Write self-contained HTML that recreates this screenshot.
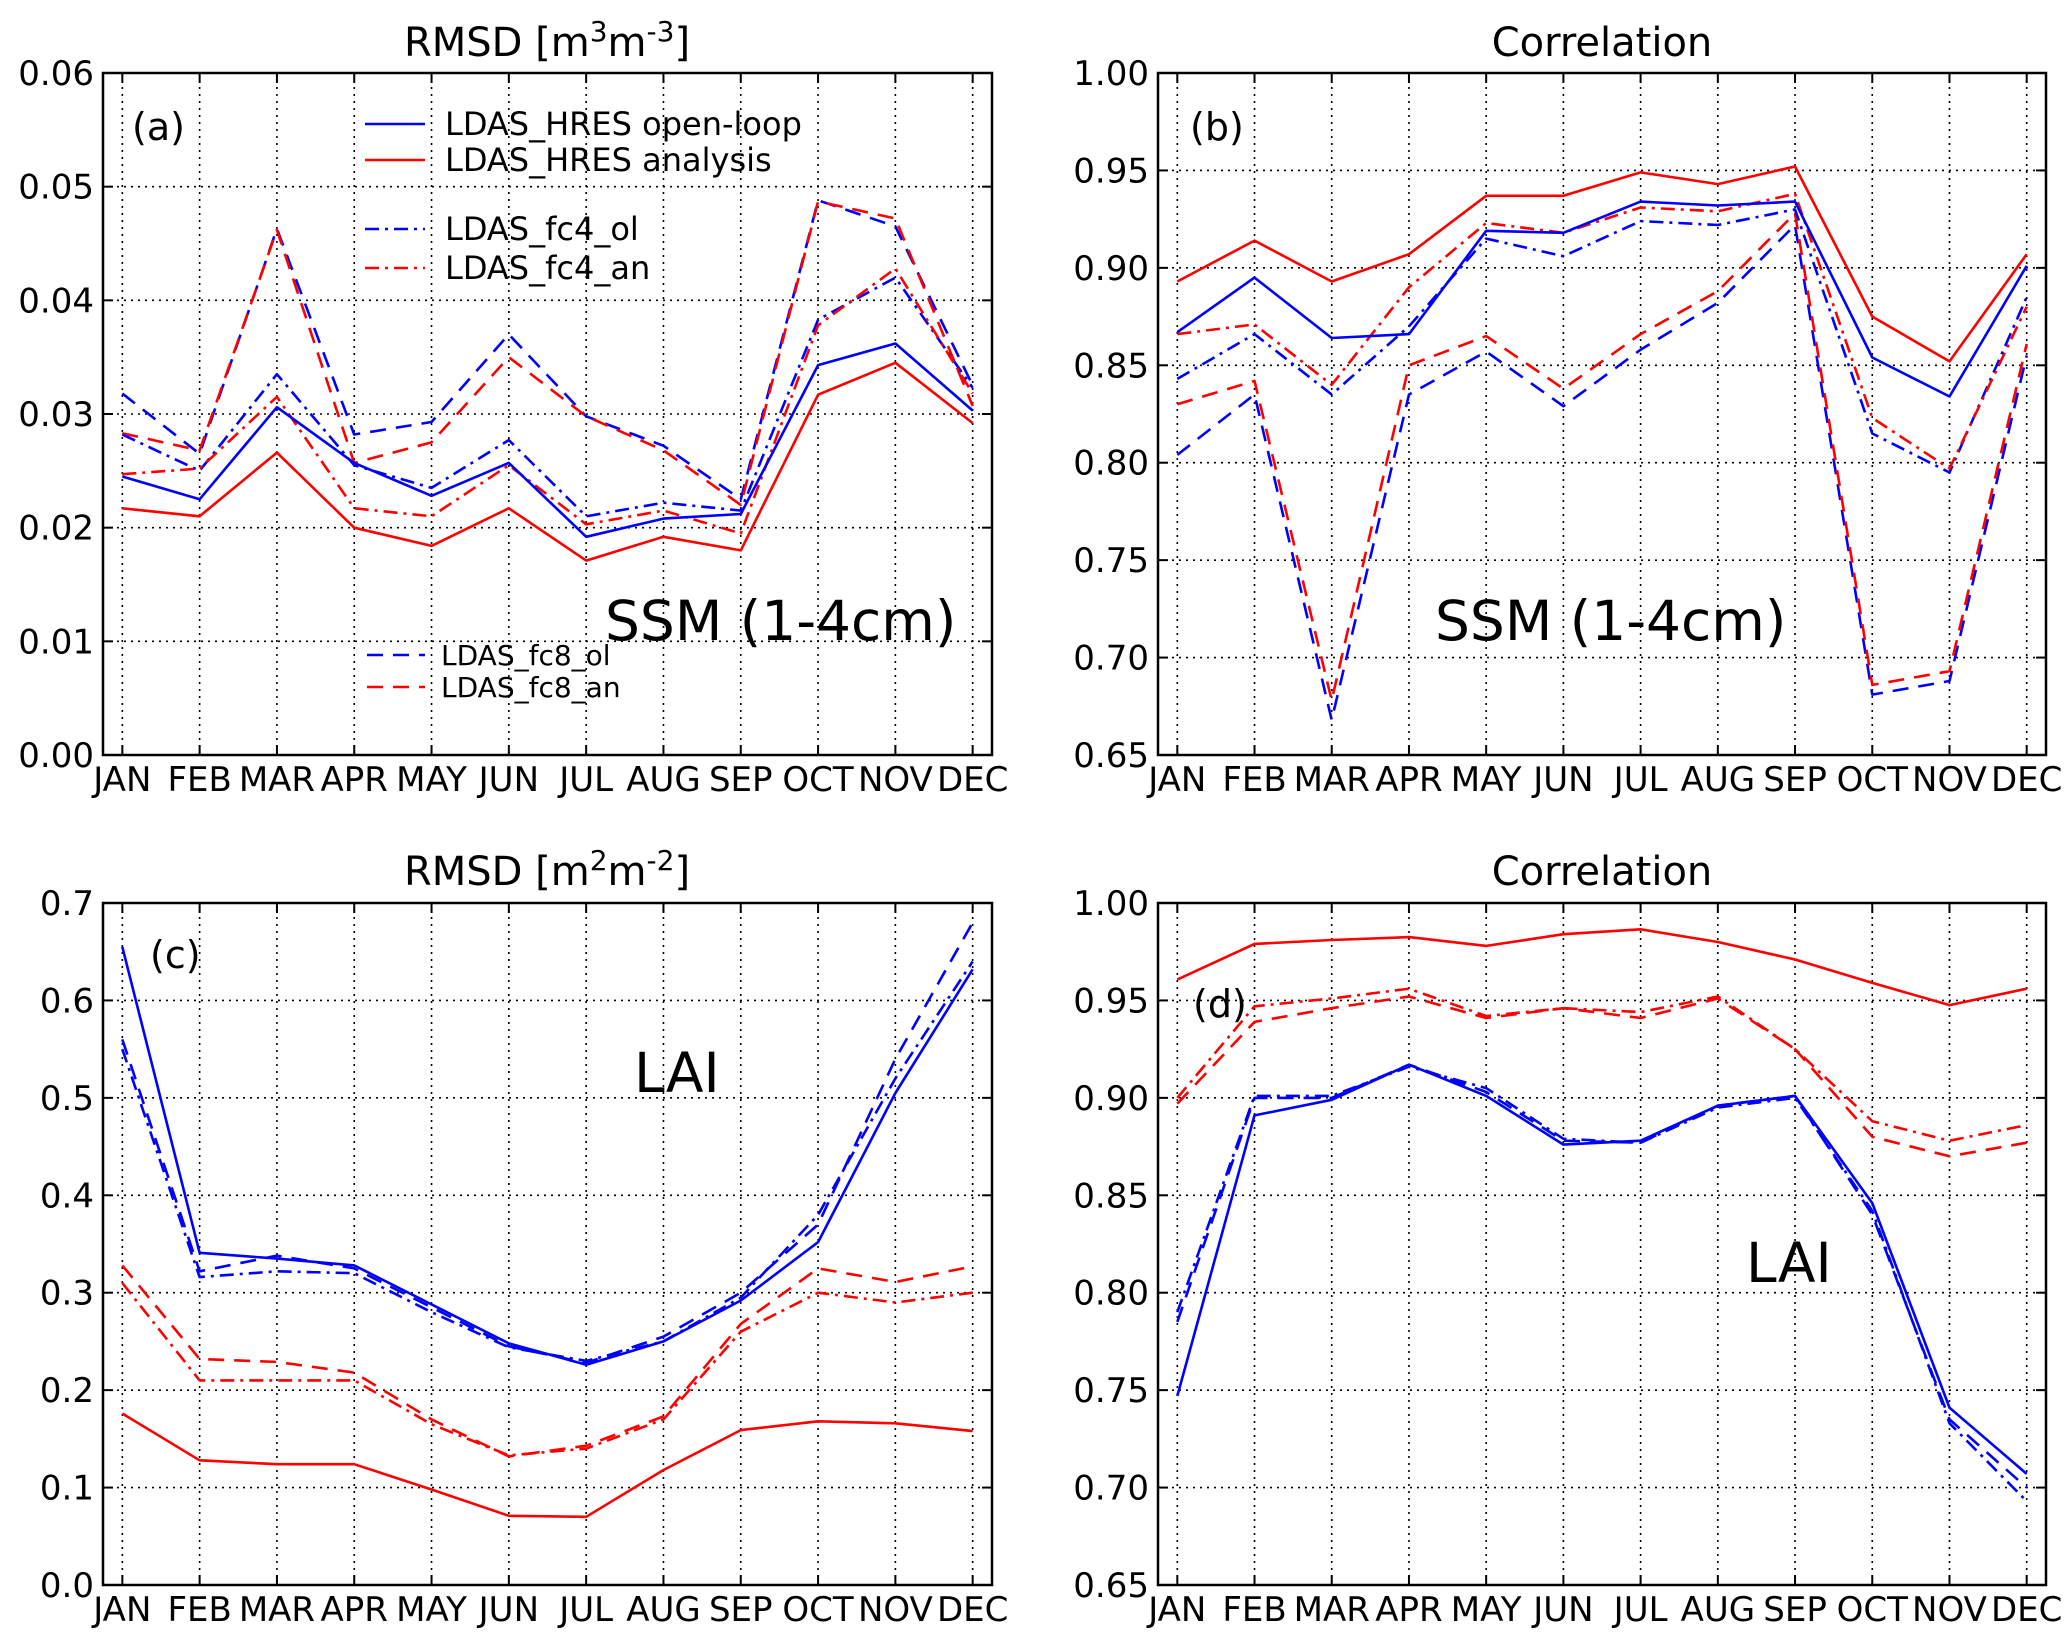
<!DOCTYPE html>
<html><head><meta charset="utf-8">
<style>
html,body{margin:0;padding:0;background:#fff;}
svg{display:block;font-family:"DejaVu Sans","Liberation Sans",sans-serif;}
</style></head>
<body>
<svg id="fig" width="2067" height="1643" viewBox="0 0 2067 1643" xmlns="http://www.w3.org/2000/svg"></svg>
<script>
const months = ["JAN","FEB","MAR","APR","MAY","JUN","JUL","AUG","SEP","OCT","NOV","DEC"];
// Panel (a) RMSD SSM
const a_hres_ol = [0.0245,0.0225,0.0306,0.0257,0.0228,0.0257,0.0192,0.0208,0.0212,0.0343,0.0362,0.0303];
const a_hres_an = [0.0217,0.0210,0.0266,0.0200,0.0184,0.0217,0.0171,0.0192,0.0180,0.0317,0.0345,0.0292];
const a_fc4_ol = [0.0282,0.0250,0.0335,0.0255,0.0235,0.0277,0.0210,0.0222,0.0215,0.0383,0.0420,0.0323];
const a_fc4_an = [0.0247,0.0252,0.0315,0.0217,0.0210,0.0255,0.0203,0.0215,0.0195,0.0378,0.0428,0.0318];
const a_fc8_ol = [0.0318,0.0265,0.0463,0.0282,0.0293,0.0370,0.0298,0.0272,0.0225,0.0488,0.0465,0.0325];
const a_fc8_an = [0.0283,0.0268,0.0462,0.0257,0.0275,0.0350,0.0298,0.0268,0.0220,0.0487,0.0472,0.0307];
const a_ticks = ["0.00","0.01","0.02","0.03","0.04","0.05","0.06"];
// Panel (b) Correlation SSM
const b_hres_ol = [0.867,0.895,0.864,0.866,0.919,0.918,0.934,0.932,0.934,0.854,0.834,0.901];
const b_hres_an = [0.893,0.914,0.893,0.907,0.937,0.937,0.949,0.943,0.952,0.875,0.852,0.907];
const b_fc4_ol = [0.843,0.866,0.835,0.870,0.915,0.906,0.924,0.922,0.930,0.815,0.795,0.885];
const b_fc4_an = [0.866,0.871,0.840,0.890,0.923,0.918,0.931,0.929,0.938,0.823,0.797,0.880];
const b_fc8_ol = [0.804,0.835,0.668,0.835,0.857,0.829,0.858,0.882,0.922,0.681,0.688,0.855];
const b_fc8_an = [0.830,0.842,0.678,0.850,0.865,0.838,0.866,0.888,0.928,0.686,0.693,0.861];
const corr_ticks = ["0.65","0.70","0.75","0.80","0.85","0.90","0.95","1.00"];
// Panel (c) RMSD LAI
const c_hres_ol = [0.655,0.341,0.335,0.328,0.288,0.248,0.226,0.250,0.292,0.352,0.505,0.632];
const c_hres_an = [0.176,0.128,0.124,0.124,0.098,0.071,0.070,0.118,0.159,0.168,0.166,0.158];
const c_fc4_ol = [0.550,0.316,0.322,0.320,0.280,0.244,0.230,0.250,0.295,0.380,0.520,0.640];
const c_fc4_an = [0.310,0.210,0.210,0.210,0.165,0.133,0.140,0.170,0.260,0.300,0.290,0.300];
const c_fc8_ol = [0.560,0.322,0.338,0.325,0.285,0.245,0.228,0.255,0.300,0.370,0.540,0.680];
const c_fc8_an = [0.328,0.232,0.229,0.218,0.170,0.132,0.143,0.173,0.268,0.325,0.311,0.327];
const c_ticks = ["0.0","0.1","0.2","0.3","0.4","0.5","0.6","0.7"];
// Panel (d) Correlation LAI
const d_hres_ol = [0.747,0.891,0.899,0.917,0.901,0.876,0.878,0.896,0.901,0.846,0.741,0.707];
const d_hres_an = [0.9607,0.979,0.981,0.9825,0.978,0.984,0.9865,0.980,0.971,0.959,0.9476,0.956];
const d_fc4_ol = [0.790,0.901,0.901,0.916,0.905,0.879,0.877,0.895,0.900,0.842,0.733,0.693];
const d_fc4_an = [0.900,0.947,0.951,0.956,0.942,0.946,0.944,0.952,0.925,0.888,0.878,0.886];
const d_fc8_ol = [0.785,0.900,0.900,0.917,0.903,0.878,0.877,0.896,0.901,0.840,0.735,0.700];
const d_fc8_an = [0.897,0.939,0.946,0.952,0.941,0.946,0.941,0.951,0.925,0.880,0.870,0.877];

const NS="http://www.w3.org/2000/svg";
const svg=document.getElementById('fig');
function mk(tag,attrs,parent){const e=document.createElementNS(NS,tag);for(const k in attrs)e.setAttribute(k,attrs[k]);(parent||svg).appendChild(e);return e;}
const STY={solid:"",dashdot:"14,6,3,6",dashed:"16,10"};

function panel(o){
  const g=mk('g',{});
  
  
  const L=o.x,T=o.y,W=o.w,H=o.h;
  const xs=i=>L+(i+0.25)/11.5*W;
  const ys=v=>T+H-(v-o.ymin)/(o.ymax-o.ymin)*H;
  o.ticks.forEach(t=>{const v=parseFloat(t);const y=ys(v);
    const gl=mk('line',{x1:L,x2:L+W,y1:y,y2:y,stroke:'#000','stroke-width':1.6,'stroke-dasharray':'2,5'},g);
    
    const tl=mk('line',{x1:L,x2:L+10,y1:y,y2:y,stroke:'#000','stroke-width':2},g);
    
    const tr=mk('line',{x1:L+W-10,x2:L+W,y1:y,y2:y,stroke:'#000','stroke-width':2},g);
    
    const tx=mk('text',{x:L-9,y:y+12,'text-anchor':'end','font-size':34},g);
    
    tx.textContent=t;});
  months.forEach((m,i)=>{const x=xs(i);
    const gl=mk('line',{x1:x,x2:x,y1:T,y2:T+H,stroke:'#000','stroke-width':1.6,'stroke-dasharray':'2,5'},g);
    
    const tb=mk('line',{x1:x,x2:x,y1:T+H-10,y2:T+H,stroke:'#000','stroke-width':2},g);
    
    const tt=mk('line',{x1:x,x2:x,y1:T,y2:T+10,stroke:'#000','stroke-width':2},g);
    
    const tx=mk('text',{x:x,y:T+H+36,'text-anchor':'middle','font-size':34},g);
    
    tx.textContent=m;});
  o.series.forEach(s=>{
    const pts=s.d.map((v,i)=>xs(i).toFixed(1)+','+ys(v).toFixed(1)).join(' ');
    const p=mk('polyline',{points:pts,fill:'none',stroke:s.c,'stroke-width':2.6,'stroke-linejoin':'round'},g);
    if(STY[s.s])p.setAttribute('stroke-dasharray',STY[s.s]);
    
    
  });
  const fr=mk('rect',{x:L,y:T,width:W,height:H,fill:'none',stroke:'#000','stroke-width':2.5},g);
  
  return g;
}
const cA="#0000ff", cR="#ff0000";
function ser(p,ol,an,f4o,f4a,f8o,f8a){return [
 {d:f8o,c:cA,s:'dashed',n:p+'-fc8-ol-line'},{d:f8a,c:cR,s:'dashed',n:p+'-fc8-an-line'},
 {d:f4o,c:cA,s:'dashdot',n:p+'-fc4-ol-line'},{d:f4a,c:cR,s:'dashdot',n:p+'-fc4-an-line'},
 {d:ol,c:cA,s:'solid',n:p+'-hres-ol-line'},{d:an,c:cR,s:'solid',n:p+'-hres-an-line'}];}

panel({name:'panel-a',x:103,y:73,w:889,h:682,ymin:0,ymax:0.06,ticks:a_ticks,series:ser('a',a_hres_ol,a_hres_an,a_fc4_ol,a_fc4_an,a_fc8_ol,a_fc8_an)});
panel({name:'panel-b',x:1158,y:73,w:888,h:682,ymin:0.65,ymax:1.0,ticks:corr_ticks,series:ser('b',b_hres_ol,b_hres_an,b_fc4_ol,b_fc4_an,b_fc8_ol,b_fc8_an)});
panel({name:'panel-c',x:103,y:903,w:889,h:682,ymin:0,ymax:0.7,ticks:c_ticks,series:ser('c',c_hres_ol,c_hres_an,c_fc4_ol,c_fc4_an,c_fc8_ol,c_fc8_an)});
panel({name:'panel-d',x:1158,y:903,w:888,h:682,ymin:0.65,ymax:1.0,ticks:corr_ticks,series:ser('d',d_hres_ol,d_hres_an,d_fc4_ol,d_fc4_an,d_fc8_ol,d_fc8_an)});
</script>
<script>
(function(){
const NS="http://www.w3.org/2000/svg";const svg=document.getElementById('fig');
function t(x,y,size,txt,name,anchor){const e=document.createElementNS(NS,'text');e.setAttribute('x',x);e.setAttribute('y',y);e.setAttribute('font-size',size);if(anchor)e.setAttribute('text-anchor',anchor);e.textContent=txt;


svg.appendChild(e);return e;}
function ln(x1,y,x2,c,dash,name){const e=document.createElementNS(NS,'line');e.setAttribute('x1',x1);e.setAttribute('x2',x2);e.setAttribute('y1',y);e.setAttribute('y2',y);e.setAttribute('stroke',c);e.setAttribute('stroke-width',2.6);if(dash)e.setAttribute('stroke-dasharray',dash);


svg.appendChild(e);}
const ta=t(547,56,40,'','title-a','middle');ta.innerHTML='RMSD [m<tspan dy="-15" font-size="28">3</tspan><tspan dy="15">m</tspan><tspan dy="-15" font-size="28">-3</tspan><tspan dy="15">]</tspan>';
t(1602,56,40,'Correlation','title-b','middle');
const tc=t(547,885,40,'','title-c','middle');tc.innerHTML='RMSD [m<tspan dy="-15" font-size="28">2</tspan><tspan dy="15">m</tspan><tspan dy="-15" font-size="28">-2</tspan><tspan dy="15">]</tspan>';
t(1602,885,40,'Correlation','title-d','middle');
t(132,140,38,'(a)','panel-label-a');
t(1190,140,38,'(b)','panel-label-b');
t(150,968,38,'(c)','panel-label-c');
t(1193,1017,38,'(d)','panel-label-d');
t(605,640,55,'SSM (1-4cm)','ssm-label-a');
t(1435,640,55,'SSM (1-4cm)','ssm-label-b');
t(634,1092,55,'LAI','lai-label-c');
t(1746,1282,55,'LAI','lai-label-d');
ln(365,124,425,'#0000ff','','legend-hres-ol-line');t(445,135,32,'LDAS_HRES open-loop','legend-hres-ol');
ln(365,160,425,'#ff0000','','legend-hres-an-line');t(445,171,32,'LDAS_HRES analysis','legend-hres-an');
ln(365,229,425,'#0000ff','14,6,3,6','legend-fc4-ol-line');t(445,240,32,'LDAS_fc4_ol','legend-fc4-ol');
ln(365,268,425,'#ff0000','14,6,3,6','legend-fc4-an-line');t(445,279,32,'LDAS_fc4_an','legend-fc4-an');
ln(367,655,425,'#0000ff','16,10','legend-fc8-ol-line');t(441,665,28,'LDAS_fc8_ol','legend-fc8-ol');
ln(367,687,425,'#ff0000','16,10','legend-fc8-an-line');t(441,697,28,'LDAS_fc8_an','legend-fc8-an');
})();
</script>
</body></html>
